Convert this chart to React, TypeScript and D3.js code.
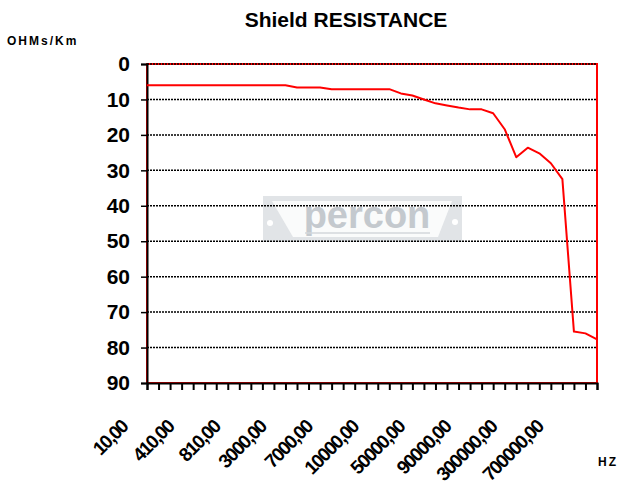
import React, { useEffect, useRef } from 'react';
import * as d3 from 'd3';

// frequencies (Hz) on the category axis
const frequencies: number[] = [
  10, 110, 210, 310, 410, 510, 610, 710, 810, 910,
  1000, 2000, 3000, 4000, 5000, 6000, 7000, 7500, 8000, 9000,
  10000, 20000, 30000, 40000, 50000, 60000, 70000, 80000, 90000, 100000,
  150000, 200000, 300000, 400000, 500000, 600000, 700000, 800000, 900000, 1000000,
];

// shield resistance (ohms/km)
const resistance: number[] = [
  6, 6, 6, 6, 6, 6, 6, 6, 6, 6,
  6, 6, 6, 6.6, 6.6, 6.6, 7.1, 7.1, 7.1, 7.1,
  7.1, 7.1, 8.3, 8.9, 10, 11.1, 11.7, 12.3, 12.8, 12.8,
  13.9, 18.4, 26.3, 23.6, 25.2, 28, 32.5, 75.5, 76, 77.7,
];

const yTicks: number[] = [0, 10, 20, 30, 40, 50, 60, 70, 80, 90];

const font = 'Arial, "Liberation Sans", sans-serif';

const Chart = () => {
  const svgRef = useRef<SVGSVGElement>(null);

  useEffect(() => {
    const svg = d3.select(svgRef.current);
    svg.selectAll('*').remove();

    const left = 147, right = 597, top = 64, bottom = 383;

    const x = d3.scalePoint<number>()
      .domain(d3.range(frequencies.length))
      .range([left, right]);

    const y = d3.scaleLinear()
      .domain([0, 90])
      .range([top, bottom]);

    // title + axis captions
    svg.append('text')
      .attr('x', 346).attr('y', 27)
      .attr('text-anchor', 'middle')
      .style('font', `bold 21px ${font}`)
      .text('Shield RESISTANCE');

    svg.append('text')
      .attr('x', 7).attr('y', 45)
      .style('font', `bold 12px ${font}`)
      .style('letter-spacing', '2px')
      .text('OHMs/Km');

    svg.append('text')
      .attr('x', 598).attr('y', 466)
      .style('font', `bold 12px ${font}`)
      .style('letter-spacing', '2px')
      .text('HZ');

    // percon watermark
    const wm = svg.append('g');
    wm.append('rect')
      .attr('x', 263).attr('y', 196).attr('width', 199).attr('height', 46)
      .attr('fill', '#e1e4e7');
    wm.append('polygon')
      .attr('points', '272,201 452,201 438,237 293,237')
      .attr('fill', '#fafbfb');
    wm.append('text')
      .attr('x', 367).attr('y', 228)
      .attr('text-anchor', 'middle')
      .style('font', `bold 38px ${font}`)
      .attr('fill', '#c4c9ce')
      .text('percon');
    wm.append('line')
      .attr('x1', 305).attr('x2', 430).attr('y1', 233).attr('y2', 233)
      .attr('stroke', '#d3d7db').attr('stroke-width', 1.5);
    wm.append('circle').attr('cx', 270).attr('cy', 223).attr('r', 3).attr('fill', '#fff');
    wm.append('circle').attr('cx', 455).attr('cy', 222).attr('r', 3).attr('fill', '#fff');

    // plot area border (red)
    svg.append('rect')
      .attr('x', left).attr('y', top)
      .attr('width', right - left).attr('height', bottom - top)
      .attr('fill', 'none')
      .attr('stroke', '#ff0000')
      .attr('stroke-width', 2);

    // dotted gridlines
    svg.append('g')
      .selectAll('line')
      .data(yTicks.slice(0, -1))
      .enter()
      .append('line')
      .attr('x1', left).attr('x2', right)
      .attr('y1', d => y(d)).attr('y2', d => y(d))
      .attr('stroke', '#000')
      .attr('stroke-width', 1.5)
      .attr('stroke-dasharray', '2,1');

    // y axis
    const yAxis = svg.append('g')
      .attr('transform', `translate(${left},0)`)
      .call(d3.axisLeft(y).tickValues(yTicks).tickSize(6).tickPadding(11).tickFormat(d3.format('d')));
    yAxis.select('.domain').attr('stroke', '#000').attr('stroke-width', 2);
    yAxis.selectAll('.tick line').attr('stroke-width', 1.5);
    yAxis.selectAll('text')
      .style('font', `bold 21px ${font}`)
      .attr('fill', '#000');

    // x axis
    const xAxis = svg.append('g')
      .attr('transform', `translate(0,${bottom})`)
      .call(d3.axisBottom(x).tickSize(7).tickFormat(() => ''));
    xAxis.select('.domain').attr('stroke', '#000').attr('stroke-width', 2);
    xAxis.selectAll('.tick line').attr('stroke-width', 2);

    svg.append('g')
      .selectAll('text')
      .data(frequencies.map((f, i) => ({ f, i })).filter(d => d.i % 4 === 0))
      .enter()
      .append('text')
      .attr('transform', d => `translate(${(x(d.i) as number) - 18},428) rotate(-45)`)
      .attr('text-anchor', 'end')
      .style('font', `bold 19px ${font}`)
      .style('letter-spacing', '-1.5px')
      .text(d => d.f.toFixed(2).replace('.', ','));

    // resistance curve
    const line = d3.line<number>()
      .x((d, i) => x(i) as number)
      .y(d => y(d));

    svg.append('path')
      .datum(resistance)
      .attr('d', line)
      .attr('fill', 'none')
      .attr('stroke', '#ff0000')
      .attr('stroke-width', 2)
      .attr('stroke-linejoin', 'round');
  }, []);

  return (
    <svg
      ref={svgRef}
      width={618}
      height={496}
      style={{ position: 'absolute', left: 0, top: 0, background: '#fff' }}
    />
  );
};

export default function App() {
  return <Chart />;
}
